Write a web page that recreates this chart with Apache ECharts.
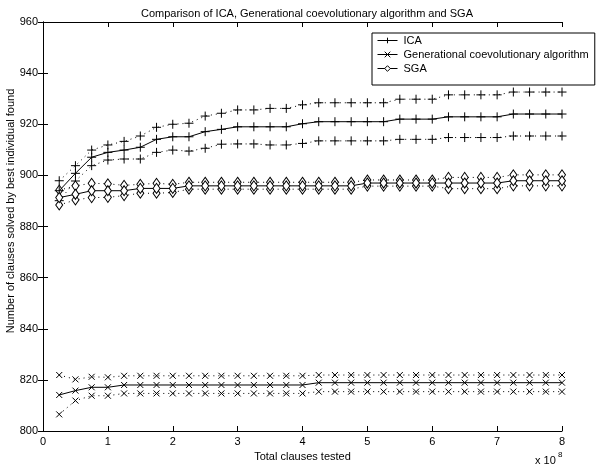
<!DOCTYPE html>
<html>
<head>
<meta charset="utf-8">
<script src="https://cdn.jsdelivr.net/npm/echarts@6/dist/echarts.min.js"></script>
<style>
  html, body { margin: 0; padding: 0; background: #fff; }
  #chart { width: 601px; height: 470px; }
</style>
</head>
<body>
<div id="chart"></div>
<script>
// x values (in units of 10^8 clauses)
var xs = [0.25,0.5,0.75,1,1.25,1.5,1.75,2,2.25,2.5,2.75,3,3.25,3.5,3.75,4,
          4.25,4.5,4.75,5,5.25,5.5,5.75,6,6.25,6.5,6.75,7,7.25,7.5,7.75,8];

var icaMean = [894,900.8,907.1,909,909.9,911,914.1,915.1,915.1,917.1,918,919,919,919,919,920.2,
               921,921,921,921,921,922,922,922,922.9,922.9,922.9,922.9,924,924,924,924];
var icaUp   = [897.9,903.8,909.9,911.9,913.3,915.4,918.8,920,920.4,923.2,924.3,925.6,925.6,926.2,926.2,927.6,
               928.4,928.4,928.4,928.4,928.4,929.8,929.8,929.8,931.5,931.5,931.5,931.5,932.6,932.6,932.6,932.6];
var icaLo   = [890.1,897.8,903.8,906,906.4,906.4,909,909.9,909.5,910.6,912.2,912.3,912.3,911.9,911.9,912.5,
               913.5,913.5,913.5,913.5,913.5,914.1,914.1,914.1,914.8,914.8,914.8,914.8,915.4,915.4,915.4,915.4];

var genMean = [814.1,815.8,817.1,817.1,818,818,818,818,818,818,818,818,818,818,818,818,
               818.9,818.9,818.9,818.9,818.9,818.9,818.9,818.9,818.9,818.9,818.9,818.9,818.9,818.9,818.9,818.9];
var genUp   = [821.9,820.2,821.2,821,821.6,821.6,821.6,821.6,821.6,821.6,821.6,821.6,821.6,821.6,821.6,821.6,
               821.9,821.9,821.9,821.9,821.9,821.9,821.9,821.9,821.9,821.9,821.9,821.9,821.9,821.9,821.9,821.9];
var genLo   = [806.5,811.9,813.8,813.8,814.7,814.7,814.7,814.7,814.7,814.7,814.7,814.7,814.7,814.7,814.7,814.7,
               815.4,815.4,815.4,815.4,815.4,815.4,815.4,815.4,815.4,815.4,815.4,815.4,815.4,815.4,815.4,815.4];

var sgaMean = [891.3,892.6,894,894,894,894.9,894.9,894.9,895.9,895.9,895.9,895.9,895.9,895.9,895.9,895.9,
               895.9,895.9,895.9,897,897,897,897,897,897,897,897,897,897.9,897.9,897.9,897.9];
var sgaUp   = [894.2,895.9,896.9,896.7,896.1,896.5,896.9,896.5,897.3,897.3,897.3,897.3,897.3,897.3,897.3,897.3,
               897.3,897.3,897.3,898.2,898.2,898.2,898.2,898.2,899.2,899.2,899.2,899.2,900.2,900.2,900.2,900.2];
var sgaLo   = [888.4,890.4,891.3,891.4,892.1,893,893,893.3,894.6,894.6,894.6,894.6,894.6,894.6,894.6,894.6,
               894.6,894.6,894.6,895.8,895.8,895.8,895.8,895.8,894.8,894.8,894.8,894.8,895.9,895.9,895.9,895.9];

var xTicks = [0,1,2,3,4,5,6,7,8];
var yTicks = [800,820,840,860,880,900,920,940,960];

var FONT = 'Liberation Sans, Arial, Helvetica, sans-serif';
var PLUS = 'path://M0,5L10,5M5,0L5,10';
var CROSS = 'path://M0,0L10,10M10,0L0,10';

function pairs(ys) {
    return xs.map(function(x, i) { return [x, ys[i]]; });
}

function makeSeries(name, ys, symbol, size, dotted, fill) {
    return {
        name: name,
        type: 'line',
        data: pairs(ys),
        symbol: symbol,
        symbolSize: size,
        showSymbol: true,
        z: dotted ? 2 : 3,
        itemStyle: { color: fill, borderColor: '#000', borderWidth: 1 },
        lineStyle: { color: '#000', width: 1, type: dotted ? [1, 4] : 'solid' },
        emphasis: { disabled: true }
    };
}

var chart = echarts.init(document.getElementById('chart'), null, { renderer: 'canvas' });

var axisCommon = {
    type: 'value',
    axisLine: { show: true, lineStyle: { color: '#000', width: 1 } },
    axisTick: { show: true, inside: true, length: 5, lineStyle: { color: '#000' } },
    splitLine: { show: false }
};

chart.setOption({
    animation: false,
    backgroundColor: '#fff',
    textStyle: { fontFamily: FONT },
    title: {
        text: 'Comparison of ICA, Generational coevolutionary algorithm and SGA',
        left: 302, top: 3, textAlign: 'center',
        textStyle: { fontSize: 11, fontWeight: 'normal', color: '#000', fontFamily: FONT }
    },
    grid: { left: 43, right: 39, top: 22, bottom: 39, outerBoundsMode: 'none' },
    legend: {
        data: ['ICA', 'Generational coevolutionary algorithm', 'SGA'],
        orient: 'vertical',
        left: 372, top: 33,
        padding: [1, 6, 10, 5],
        itemWidth: 20, itemHeight: 7, itemGap: 1,
        backgroundColor: '#fff',
        borderColor: '#000', borderWidth: 1, borderRadius: 0,
        itemStyle: { borderWidth: 1, borderColor: '#000' },
        lineStyle: { width: 1, color: '#000' },
        textStyle: { fontSize: 11, lineHeight: 13, color: '#000', fontFamily: FONT, padding: [0, 0, 0, 1] }
    },
    xAxis: [
        Object.assign({}, axisCommon, {
            min: 0, max: 8, interval: 1,
            name: 'Total clauses tested', nameLocation: 'middle', nameGap: 20,
            nameTextStyle: { fontSize: 11, color: '#000', fontFamily: FONT },
            axisLabel: { fontSize: 11, color: '#000', margin: 5, fontFamily: FONT,
                formatter: function(v) { return xTicks.indexOf(v) >= 0 ? String(v) : ''; } }
        }),
        Object.assign({}, axisCommon, {
            min: 0, max: 8, interval: 1, position: 'top',
            axisLabel: { show: false }
        })
    ],
    yAxis: [
        Object.assign({}, axisCommon, {
            min: 800, max: 960, interval: 20,
            axisLabel: { fontSize: 11, color: '#000', margin: 5, fontFamily: FONT,
                formatter: function(v) { return yTicks.indexOf(v) >= 0 ? String(v) : ''; } }
        }),
        Object.assign({}, axisCommon, {
            min: 800, max: 960, interval: 20, position: 'right',
            axisLabel: { show: false }
        })
    ],
    graphic: [
        { type: 'text', x: 11, y: 211, rotation: Math.PI / 2,
          style: { text: 'Number of clauses solved by best individual found', fontSize: 11, fill: '#000',
                   fontFamily: FONT, align: 'center', verticalAlign: 'middle' } },
        { type: 'text', left: 535, top: 455, style: { text: 'x 10', fontSize: 11, fill: '#000', fontFamily: FONT } },
        { type: 'text', left: 558, top: 451, style: { text: '8', fontSize: 8, fill: '#000', fontFamily: FONT } }
    ],
    series: [
        makeSeries('ICA up', icaUp, PLUS, 9, true, '#000'),
        makeSeries('ICA low', icaLo, PLUS, 9, true, '#000'),
        makeSeries('Gen up', genUp, CROSS, 6, true, '#000'),
        makeSeries('Gen low', genLo, CROSS, 6, true, '#000'),
        makeSeries('SGA up', sgaUp, 'diamond', [7, 10], true, '#fff'),
        makeSeries('SGA low', sgaLo, 'diamond', [7, 10], true, '#fff'),
        makeSeries('ICA', icaMean, PLUS, 9, false, '#000'),
        makeSeries('Generational coevolutionary algorithm', genMean, CROSS, 6, false, '#000'),
        makeSeries('SGA', sgaMean, 'diamond', [7, 10], false, '#fff')
    ]
});
</script>
</body>
</html>
